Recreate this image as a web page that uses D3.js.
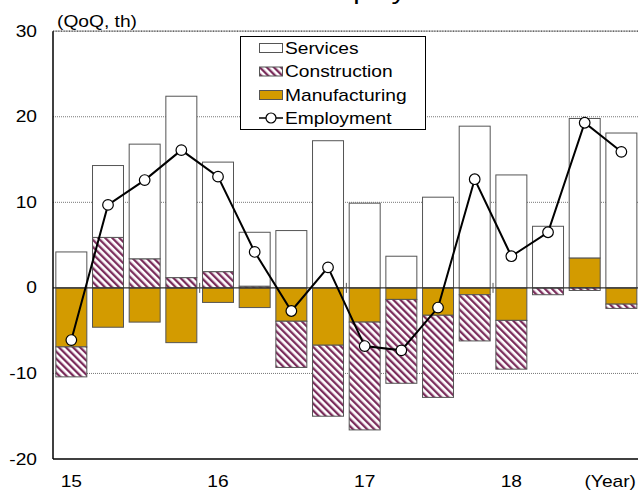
<!DOCTYPE html>
<html><head><meta charset="utf-8">
<script src="https://cdn.jsdelivr.net/npm/d3@7"></script>
<style>
body{margin:0;background:#fff;}
svg{display:block;font-family:"Liberation Sans",Arial,sans-serif;}
</style></head>
<body><svg id="c" width="638" height="490"></svg>
<script>
const quarters = ["15Q1","15Q2","15Q3","15Q4","16Q1","16Q2","16Q3","16Q4","17Q1","17Q2","17Q3","17Q4","18Q1","18Q2","18Q3","18Q4"];
const services = [4.2, 8.4, 13.4, 21.2, 12.8, 6.3, 6.7, 17.2, 9.9, 3.7, 10.6, 18.9, 13.2, 7.2, 16.3, 18.1];
const construction = [-3.5, 5.9, 3.4, 1.2, 1.9, 0.2, -5.4, -8.3, -12.6, -9.8, -9.6, -5.4, -5.7, -0.8, -0.3, -0.5];
const manufacturing = [-6.9, -4.6, -4.0, -6.4, -1.7, -2.3, -3.9, -6.7, -4.0, -1.35, -3.2, -0.8, -3.8, 0, 3.5, -1.9];
const employment = [-6.1, 9.7, 12.6, 16.1, 13.0, 4.2, -2.7, 2.4, -6.8, -7.3, -2.3, 12.7, 3.7, 6.5, 19.3, 15.9];
const yearLabels = ["15","16","17","18"];
const yTicks = [30, 20, 10, 0, -10, -20];
const seriesNames = ["Services","Construction","Manufacturing","Employment"];

const svg = d3.select("#c");
const L = 53, R = 639.7, T = 31.2, B = 459;
const SX = 1.2; // horizontal stretch of text as in the reference
const x = d3.scaleBand().domain(quarters).range([L, R]).paddingInner(0.155).paddingOuter(0.0775);
const y = d3.scaleLinear().domain([-20, 30]).range([B, T]);

function txt(parent, px, py, str, size, anchor){
  return parent.append("text")
    .attr("transform", `translate(${px},${py}) scale(${SX},1)`)
    .attr("text-anchor", anchor || "start")
    .attr("font-size", size).attr("fill", "#000").text(str);
}

// pattern
const defs = svg.append("defs");
const pat = defs.append("pattern").attr("id","hatch").attr("patternUnits","userSpaceOnUse")
  .attr("width",5).attr("height",5).attr("patternTransform","rotate(-45)");
pat.append("rect").attr("width",5).attr("height",5).attr("fill","#fff");
pat.append("rect").attr("x",0).attr("width",2.3).attr("height",5).attr("fill","#7b2d5c");
const fills = {Manufacturing:"#d39b00", Construction:"url(#hatch)", Services:"#fff"};

// title (mostly cropped, as in the reference)
txt(svg, 310, -1, "Employment", 24, "start");

// gridlines
[20,10,-10].forEach(v=>{
  svg.append("line").attr("x1",L).attr("x2",638).attr("y1",y(v)).attr("y2",y(v))
    .attr("stroke","#777").attr("stroke-width",1).attr("stroke-dasharray","1,1");
});
svg.append("line").attr("x1",L).attr("x2",638).attr("y1",y(30)).attr("y2",y(30))
  .attr("stroke","#333").attr("stroke-width",1.2).attr("stroke-dasharray","1,0.6");

// stacked bars
const table = quarters.map((q,i)=>({q, Services:services[i], Construction:construction[i], Manufacturing:manufacturing[i]}));
const stack = d3.stack().keys(["Manufacturing","Construction","Services"]).offset(d3.stackOffsetDiverging);
const layers = stack(table);
layers.forEach(layer=>{
  svg.append("g").selectAll("rect").data(layer.filter(d=>d[1]!==d[0])).join("rect")
    .attr("x",d=>x(d.data.q)).attr("width",x.bandwidth())
    .attr("y",d=>y(Math.max(d[0],d[1]))).attr("height",d=>Math.abs(y(d[0])-y(d[1])))
    .attr("fill",fills[layer.key]).attr("stroke","#555").attr("stroke-width",1);
});

// zero line
svg.append("line").attr("x1",L).attr("x2",638).attr("y1",y(0)).attr("y2",y(0)).attr("stroke","#333").attr("stroke-width",1.3);
// year boundary ticks
[4,8,12].forEach(i=>{
  const xx = x(quarters[i]) - x.step()*x.paddingInner()/2;
  svg.append("line").attr("x1",xx).attr("x2",xx).attr("y1",y(0)-5).attr("y2",y(0)+5).attr("stroke","#555").attr("stroke-width",1);
});

// axes frame
svg.append("line").attr("x1",L).attr("x2",L).attr("y1",T).attr("y2",B).attr("stroke","#000").attr("stroke-width",1.5);
svg.append("line").attr("x1",L).attr("x2",638).attr("y1",B).attr("y2",B).attr("stroke","#000").attr("stroke-width",1.5);

// y tick labels
const yl = svg.append("g");
yTicks.forEach(d=> txt(yl, 37, y(d)+5.5, d, 16, "end"));
txt(svg, 57, 27, "(QoQ, th)", 16, "start");

// x labels
const xl = svg.append("g");
yearLabels.forEach((d,i)=> txt(xl, x(quarters[i*4])+x.bandwidth()/2, 487, d, 16, "middle"));
txt(svg, 636, 487, "(Year)", 16, "end");

// employment line
const line = d3.line().x((d,i)=>x(quarters[i])+x.bandwidth()/2).y(d=>y(d));
svg.append("path").datum(employment).attr("d",line).attr("fill","none").attr("stroke","#000").attr("stroke-width",2);
svg.append("g").selectAll("circle").data(employment).join("circle")
  .attr("cx",(d,i)=>x(quarters[i])+x.bandwidth()/2).attr("cy",d=>y(d)).attr("r",5.3)
  .attr("fill","#fff").attr("stroke","#000").attr("stroke-width",1.2);

// legend
const lg = svg.append("g");
lg.append("rect").attr("x",240.5).attr("y",36.5).attr("width",185).attr("height",93).attr("fill","#fff").attr("stroke","#000").attr("stroke-width",1);
const rowY = [48, 71.5, 95, 118];
seriesNames.forEach((n,i)=>{
  const cy = rowY[i];
  if(n==="Employment"){
    lg.append("line").attr("x1",259).attr("x2",283).attr("y1",cy).attr("y2",cy).attr("stroke","#000").attr("stroke-width",1.5);
    lg.append("circle").attr("cx",271).attr("cy",cy).attr("r",5).attr("fill","#fff").attr("stroke","#000").attr("stroke-width",1.2);
  } else {
    lg.append("rect").attr("x",259.5).attr("y",cy-4.5).attr("width",23).attr("height",9)
      .attr("fill",fills[n]).attr("stroke","#555").attr("stroke-width",1);
  }
  txt(lg, 285, cy+5.5, n, 16, "start");
});
</script></body></html>
